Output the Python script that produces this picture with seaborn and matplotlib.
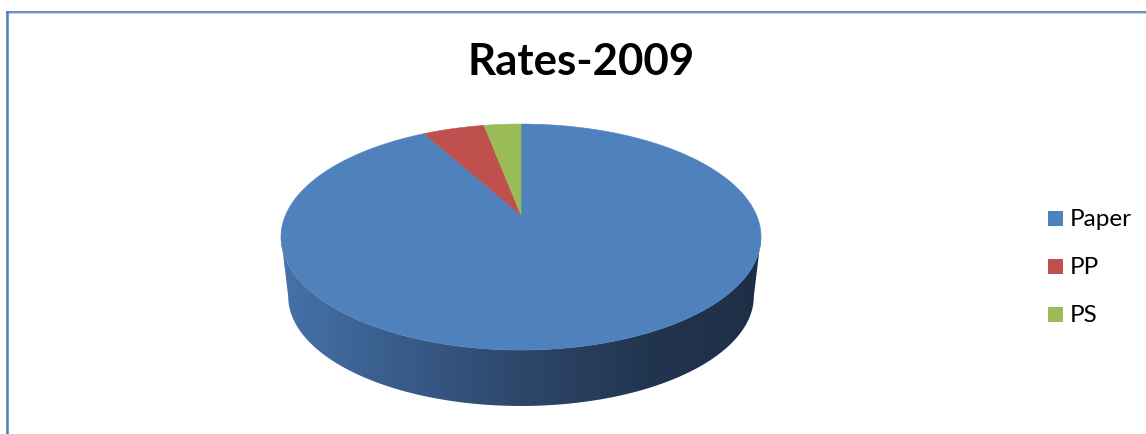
import numpy as np
import matplotlib
matplotlib.use("Agg")
import matplotlib.pyplot as plt
from matplotlib.patches import Polygon, Rectangle
from matplotlib.colors import to_rgb
import seaborn as sns

# Share of each material in 2009 rates (percent)
categories = ["Paper", "PP", "PS"]
values = [92, 5, 3]
slice_colors = ["#4F81BD", "#C0504D", "#9BBB59"]
title = "Rates-2009"

sns.set_theme(style="white")
plt.rcParams["font.family"] = ["Lato", "DejaVu Sans"]
palette = sns.color_palette(slice_colors)

W, H = 1146, 434
fig = plt.figure(figsize=(W / 100, H / 100), dpi=100)
ax = fig.add_axes([0, 0, 1, 1])
ax.set_xlim(0, W)
ax.set_ylim(H, 0)
ax.axis("off")

# Perspective disc: circle point (u, v), v pointing away from the viewer
K = 0.195
TOP = dict(xa=521.0, ya=215.0, a=235.4, b=108.7)
BOT = dict(xa=521.0, ya=275.0, a=235.4 * 0.97, b=108.7 * 0.97)


def project(theta, face):
    """theta measured clockwise from 12 o'clock, in radians."""
    u, v = np.sin(theta), np.cos(theta)
    w = 1 + K * v
    return face["xa"] + face["a"] * u / w, face["ya"] - face["b"] * v / w


# Side wall (front half, between the two silhouette points)
phi = np.arcsin(K)
front = np.linspace(np.pi / 2 + phi, 3 * np.pi / 2 - phi, 300)
tx, ty = project(front, TOP)
bx, by = project(front, BOT)
side_xy = np.column_stack([np.concatenate([tx, bx[::-1]]),
                           np.concatenate([ty, by[::-1]])])
side = Polygon(side_xy, closed=True, facecolor="none", edgecolor="none")
ax.add_patch(side)

stops_x = [281, 400, 520, 650, 761]
stops_c = ["#4672A9", "#385C8A", "#2D476B", "#22354F", "#1E2E46"]
gx = np.linspace(275, 770, 600)
rgb = np.array([to_rgb(c) for c in stops_c])
grad = np.stack([np.interp(gx, stops_x, rgb[:, i]) for i in range(3)], axis=-1)
img = ax.imshow(grad[np.newaxis, :, :], extent=[275, 770, 420, 220],
                aspect="auto", interpolation="bilinear", zorder=1)
img.set_clip_path(side)

# Top face wedges, clockwise from 12 o'clock
fractions = np.array(values, dtype=float) / np.sum(values)
edges = np.concatenate([[0.0], np.cumsum(fractions)]) * 2 * np.pi
for i, name in enumerate(categories):
    t = np.linspace(edges[i], edges[i + 1], max(int(600 * fractions[i]), 8))
    px, py = project(t, TOP)
    xy = np.column_stack([np.concatenate([[TOP["xa"]], px]),
                          np.concatenate([[TOP["ya"]], py])])
    ax.add_patch(Polygon(xy, closed=True, facecolor=palette[i],
                         edgecolor=palette[i], linewidth=0.4, zorder=2))

# Title
ax.text(581, 75, title, ha="center", va="baseline", fontsize=31.5,
        fontweight="bold", color="black")

# Legend
for i, name in enumerate(categories):
    yc = 218.5 + 48 * i
    ax.add_patch(Rectangle((1048, yc - 7.5), 15, 15, facecolor=palette[i],
                           edgecolor="none", zorder=3))
    ax.text(1070, yc + 8, name, ha="left", va="baseline", fontsize=17.5,
            color="black")

# Chart frame (top and left edges)
ax.plot([6, W], [11.5, 11.5], color="#4A7EBB", lw=1.2, clip_on=False,
        solid_capstyle="butt")
ax.plot([6, W], [13.2, 13.2], color="#B9CDE5", lw=0.6, clip_on=False,
        solid_capstyle="butt")
ax.plot([7.2, 7.2], [11, H], color="#4A7EBB", lw=1.8, clip_on=False,
        solid_capstyle="butt")

fig.savefig("out.png", dpi=100)
